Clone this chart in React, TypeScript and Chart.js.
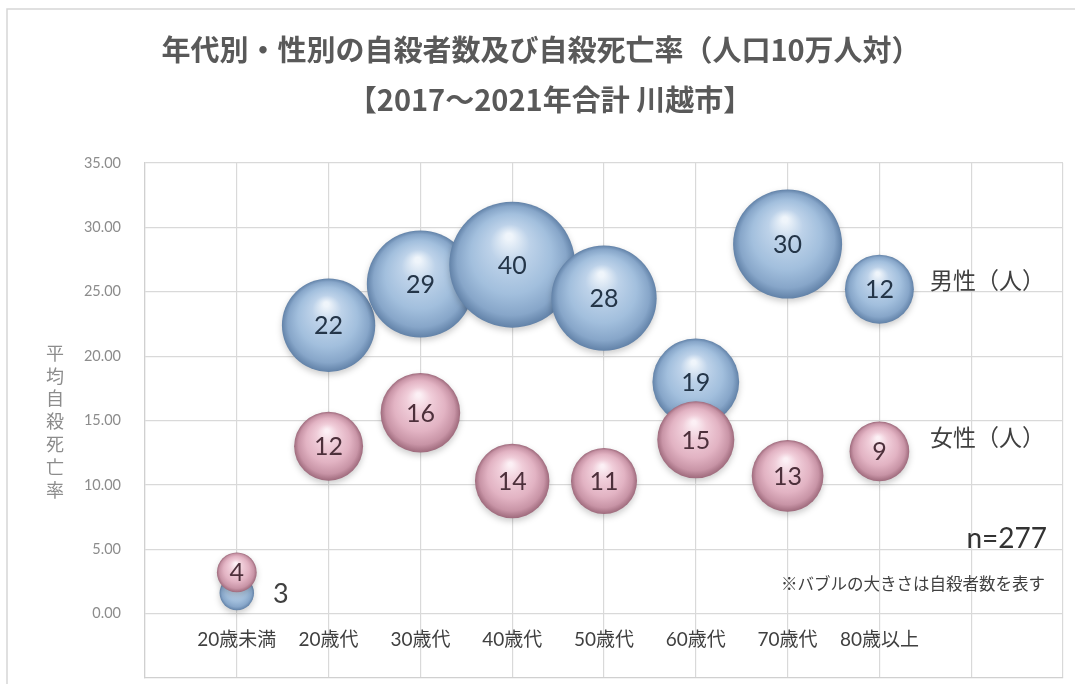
import React, { useEffect, useRef } from 'react';
import { Chart, registerables } from 'chart.js';

Chart.register(...registerables);

const ageGroups = ['20歳未満', '20歳代', '30歳代', '40歳代', '50歳代', '60歳代', '70歳代', '80歳以上'];
const xPositions = [1, 2, 3, 4, 5, 6, 7, 8];
const maleRate = [1.6, 22.4, 25.6, 27.1, 24.5, 18.0, 28.7, 25.2];
const maleCount = [3, 22, 29, 40, 28, 19, 30, 12];
const femaleRate = [3.2, 13.0, 15.6, 10.3, 10.3, 13.5, 10.7, 12.6];
const femaleCount = [4, 12, 16, 14, 11, 15, 13, 9];
const yMin = -5;
const yMax = 35;
const yStep = 5;
const xMin = 0;
const xMax = 10;

const titleLines = ['年代別・性別の自殺者数及び自殺死亡率（人口10万人対）', '【2017～2021年合計 川越市】'];
const yAxisTitle = '平均自殺死亡率';
const seriesLabels = ['男性（人）', '女性（人）'];
const totalNote = 'n=277';
const sizeNote = '※バブルの大きさは自殺者数を表す';

const BLUE_STOPS: [number, string][] = [
  [0, '#eff5fb'],
  [0.28, '#bdd2e9'],
  [0.62, '#a2bfdd'],
  [0.86, '#87a6c9'],
  [1, '#6282a8'],
];
const PINK_STOPS: [number, string][] = [
  [0, '#fcf0f5'],
  [0.28, '#f0cdd9'],
  [0.62, '#e2b3c3'],
  [0.86, '#c894a6'],
  [1, '#9e6a7c'],
];

const radiusOf = (count: number) => 9.95 * Math.sqrt(count);

function sphereFill(stops: [number, string][]) {
  return (c: any) => {
    if (c.type !== 'data' || !c.raw) return stops[2][1];
    const chart = c.chart;
    const xs = chart.scales.x;
    const ys = chart.scales.y;
    if (!xs || !ys) return stops[2][1];
    const cx = xs.getPixelForValue(c.raw.x);
    const cy = ys.getPixelForValue(c.raw.y);
    const r = c.raw.r;
    if (!isFinite(cx) || !isFinite(cy)) return stops[2][1];
    const g = chart.ctx.createRadialGradient(cx - r * 0.05, cy - r * 0.45, r * 0.05, cx, cy, r);
    stops.forEach(([o, col]) => g.addColorStop(o, col));
    return g;
  };
}

const decorPlugin = {
  id: 'decor',
  beforeDraw(chart: any) {
    const { ctx, width, height } = chart;
    ctx.save();
    ctx.fillStyle = '#ffffff';
    ctx.fillRect(0, 0, width, height);
    ctx.strokeStyle = '#d6d6d6';
    ctx.lineWidth = 1.5;
    ctx.beginPath();
    ctx.moveTo(7, height);
    ctx.lineTo(7, 9);
    ctx.lineTo(width, 9);
    ctx.stroke();
    ctx.restore();
  },
  beforeDatasetDraw(chart: any) {
    const ctx = chart.ctx;
    ctx.save();
    ctx.shadowColor = 'rgba(0,0,0,0.2)';
    ctx.shadowBlur = 6;
    ctx.shadowOffsetY = 3;
  },
  afterDatasetDraw(chart: any, args: any) {
    const ctx = chart.ctx;
    ctx.restore();
    const ds = chart.data.datasets[args.index];
    const isMale = ds.key === 'male';
    const counts = isMale ? maleCount : femaleCount;
    ctx.save();
    ctx.textAlign = 'center';
    ctx.textBaseline = 'middle';
    args.meta.data.forEach((el: any, i: number) => {
      const txt = String(counts[i]);
      if (isMale && i === 0) {
        ctx.font = '27px Lato, "Noto Sans"';
        ctx.fillStyle = '#404040';
        ctx.fillText(txt, el.x + 44, el.y + 1);
      } else {
        ctx.font = '25px Lato, "Noto Sans"';
        ctx.fillStyle = isMale ? '#243548' : '#4d303b';
        ctx.fillText(txt, el.x, el.y + 1);
      }
    });
    ctx.restore();
  },
  afterDraw(chart: any) {
    const { ctx } = chart;
    const xs = chart.scales.x;
    const ys = chart.scales.y;
    ctx.save();
    // Title
    ctx.fillStyle = '#595959';
    ctx.textAlign = 'center';
    ctx.textBaseline = 'middle';
    ctx.font = 'bold 29px "Noto Sans CJK JP"';
    ctx.fillText(titleLines[0], 541, 50);
    ctx.fillText(titleLines[1], 550, 100);

    // Y axis title (vertical, upright)
    ctx.fillStyle = '#8c8c8c';
    ctx.font = '18px "Noto Sans CJK JP"';
    const chars = Array.from(yAxisTitle);
    chars.forEach((ch, i) => {
      ctx.fillText(ch, 55, 353 + i * 22.8);
    });

    // Category labels
    ctx.fillStyle = '#404040';
    ctx.font = '19px Lato, "Noto Sans CJK JP"';
    const labelY = ys.getPixelForValue(-2);
    ageGroups.forEach((g, i) => {
      ctx.fillText(g, xs.getPixelForValue(xPositions[i]), labelY);
    });

    // Series labels
    ctx.font = '23px "Noto Sans CJK JP"';
    ctx.fillStyle = '#404040';
    ctx.textAlign = 'left';
    ctx.fillText(seriesLabels[0], 930, 280);
    ctx.fillText(seriesLabels[1], 930, 437);

    // Notes
    ctx.textAlign = 'right';
    ctx.fillStyle = '#333333';
    ctx.font = '28px Lato, "Noto Sans"';
    ctx.fillText(totalNote, 1047, 539);
    ctx.fillStyle = '#404040';
    ctx.font = '16.5px "Noto Sans CJK JP"';
    ctx.fillText(sizeNote, 1045, 584);
    ctx.restore();
  },
};

export default function App() {
  const ref = useRef<HTMLCanvasElement | null>(null);

  useEffect(() => {
    if (!ref.current) return;
    const chart = new Chart(ref.current, {
      type: 'bubble',
      data: {
        datasets: [
          {
            key: 'female',
            label: '女性',
            data: xPositions.map((x, i) => ({ x, y: femaleRate[i], r: radiusOf(femaleCount[i]) })),
            backgroundColor: sphereFill(PINK_STOPS),
            borderWidth: 0,
          } as any,
          {
            key: 'male',
            label: '男性',
            data: xPositions.map((x, i) => ({ x, y: maleRate[i], r: radiusOf(maleCount[i]) })),
            backgroundColor: sphereFill(BLUE_STOPS),
            borderWidth: 0,
          } as any,
        ],
      },
      options: {
        animation: false,
        responsive: false,
        events: [],
        layout: { autoPadding: false, padding: { left: 0, top: 163, right: 12, bottom: 6 } },
        plugins: {
          legend: { display: false },
          title: { display: false },
          tooltip: { enabled: false },
        },
        scales: {
          x: {
            type: 'linear',
            min: xMin,
            max: xMax,
            ticks: { display: false, stepSize: 1 },
            grid: { color: '#d9d9d9', lineWidth: 1.2, drawTicks: false },
            border: { color: '#d0d0d0', width: 1.2 },
            afterFit: (s: any) => {
              s.height = 0;
            },
          },
          y: {
            type: 'linear',
            min: yMin,
            max: yMax,
            ticks: {
              stepSize: yStep,
              padding: 0,
              color: '#8c8c8c',
              font: { family: 'Lato', size: 14.5, lineHeight: 0.75 },
              callback: (v: any) => (Number(v) < 0 ? null : Number(v).toFixed(2)),
            },
            grid: { color: '#d9d9d9', lineWidth: 1.2, drawTicks: true, tickLength: 24, tickColor: 'rgba(0,0,0,0)' },
            border: { color: '#d0d0d0', width: 1.2 },
            afterFit: (s: any) => {
              s.width = 145;
            },
          },
        },
      },
      plugins: [decorPlugin],
    } as any);
    return () => chart.destroy();
  }, []);

  return (
    <div style={{ position: 'absolute', left: 0, top: 0, width: 1075, height: 684 }}>
      <canvas ref={ref} width={1075} height={684} style={{ width: 1075, height: 684, display: 'block' }} />
    </div>
  );
}
